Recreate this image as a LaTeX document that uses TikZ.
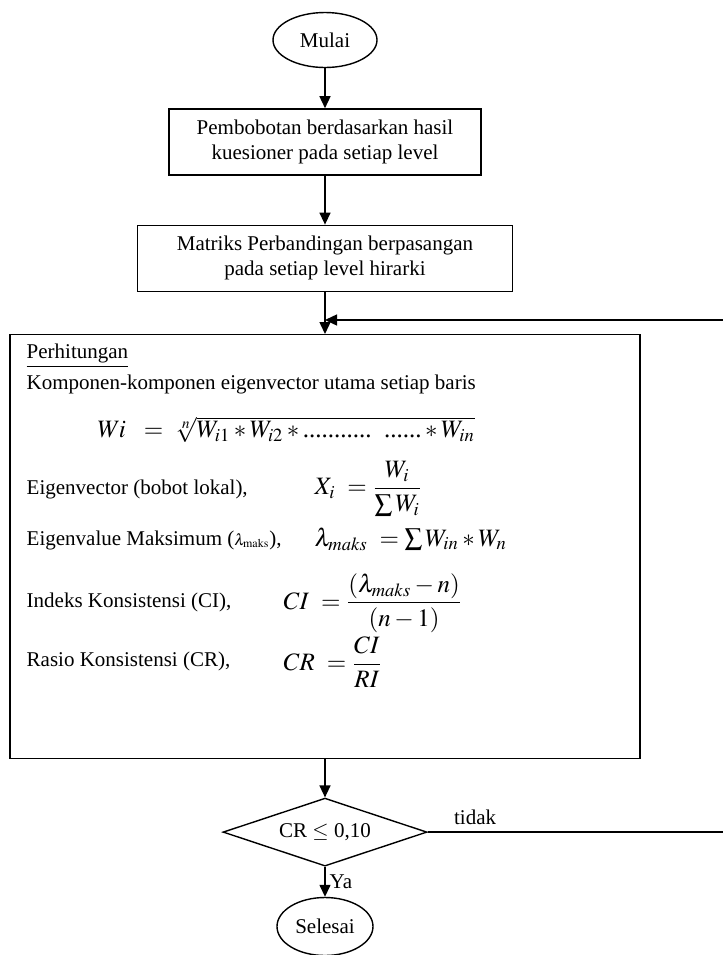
\documentclass[tikz,border=0pt]{standalone}
\usepackage{amsmath}
\usepackage{mathptmx}
\usepackage{fontspec}
\setmainfont{Liberation Serif}
\usetikzlibrary{shapes.geometric, arrows.meta, positioning}

\begin{document}
\begin{tikzpicture}[
			x=0.5pt, y=-0.5pt,
			every node/.style={font=\fontsize{10.5}{12.5}\selectfont},
			proses/.style={draw, rectangle, align=center, inner sep=0pt, line width=0.7pt},
			terminal/.style={ellipse, draw, inner sep=0pt, line width=0.7pt},
			keputusan/.style={diamond, draw, aspect=3, inner sep=0pt, line width=0.7pt},
			teks/.style={anchor=west, inner sep=0pt},
			rumus/.style={anchor=west, inner sep=0pt, font=\fontsize{12.5}{15}\selectfont},
			arrow/.style={-{Triangle[length=6pt, width=5.5pt]}, line width=0.7pt}
			]
			\useasboundingbox (0,0) rectangle (723,955);
			
			% Nodes
			\node (mulai) [terminal, minimum width=52pt, minimum height=27.5pt] at (325,40) {Mulai};
			\node (bobot) [proses, below=20pt of mulai, minimum width=156pt, minimum height=33pt] {Pembobotan berdasarkan hasil\\kuesioner pada setiap level};
			\node (matriks) [proses, below=24.5pt of bobot, minimum width=187.5pt, minimum height=33pt] {Matriks Perbandingan berpasangan\\pada setiap level hirarki};
			\node (hitung) [proses, below=21pt of matriks, minimum width=315pt, minimum height=212pt] {};
			\node (cek) [keputusan, below=19pt of hitung, minimum width=102pt, minimum height=34pt] {CR $\leq$ 0,10};
			\node (selesai) [terminal, below=15pt of cek, minimum width=48pt, minimum height=29pt] {Selesai};
			
			% Isi perhitungan
			\node (judul) [teks] at ([shift={(8.5pt,-11pt)}]hitung.north west) {\underline{Perhitungan}};
			\node (komponen) [teks] at ([shift={(8.5pt,-25pt)}]hitung.north west) {Komponen-komponen eigenvector utama setiap baris};
			\node (rumuswi) [rumus] at ([shift={(44pt,-48pt)}]hitung.north west) {$Wi\ \ =\ \sqrt[n]{W_{i1}\ast W_{i2}\ast\text{...........}\ \ \text{......}\ast W_{in}}$};
			\node (lblx) [teks] at ([shift={(8.5pt,-77.5pt)}]hitung.north west) {Eigenvector (bobot lokal),};
			\node (rumusx) [rumus] at ([shift={(152.5pt,-77.5pt)}]hitung.north west) {$X_i\ =\dfrac{W_i}{\sum W_i}$};
			\node (lbllambda) [teks] at ([shift={(8.5pt,-103pt)}]hitung.north west) {Eigenvalue Maksimum ({\footnotesize$\lambda_{\mathrm{maks}}$}),};
			\node (rumuslambda) [rumus] at ([shift={(152.5pt,-102.5pt)}]hitung.north west) {$\lambda_{maks}\ =\sum W_{in}\ast W_n$};
			\node (lblci) [teks] at ([shift={(8.5pt,-134pt)}]hitung.north west) {Indeks Konsistensi (CI),};
			\node (rumusci) [rumus] at ([shift={(137pt,-134.5pt)}]hitung.north west) {$CI\ =\dfrac{(\lambda_{maks}-n)}{(n-1)}$};
			\node (lblcr) [teks] at ([shift={(8.5pt,-163.5pt)}]hitung.north west) {Rasio Konsistensi (CR),};
			\node (rumuscr) [rumus] at ([shift={(137pt,-164pt)}]hitung.north west) {$CR\ =\dfrac{CI}{RI}$};
			
			% Connections
			\coordinate (balik) at (724,320);
			\coordinate (gabung) at (matriks.south |- balik);
			\draw [arrow] (mulai) -- (bobot);
			\draw [arrow] (bobot) -- (matriks);
			\draw [arrow] (matriks) -- (hitung);
			\draw [arrow] (hitung) -- (cek);
			\draw [arrow] (cek) -- node[right, inner sep=2pt] {Ya} (selesai);
			\draw [arrow] (cek.east) -- node[above, pos=0.16] {tidak} (cek.east -| balik) -- (balik) -- (gabung);
			
		\end{tikzpicture}
\end{document}
